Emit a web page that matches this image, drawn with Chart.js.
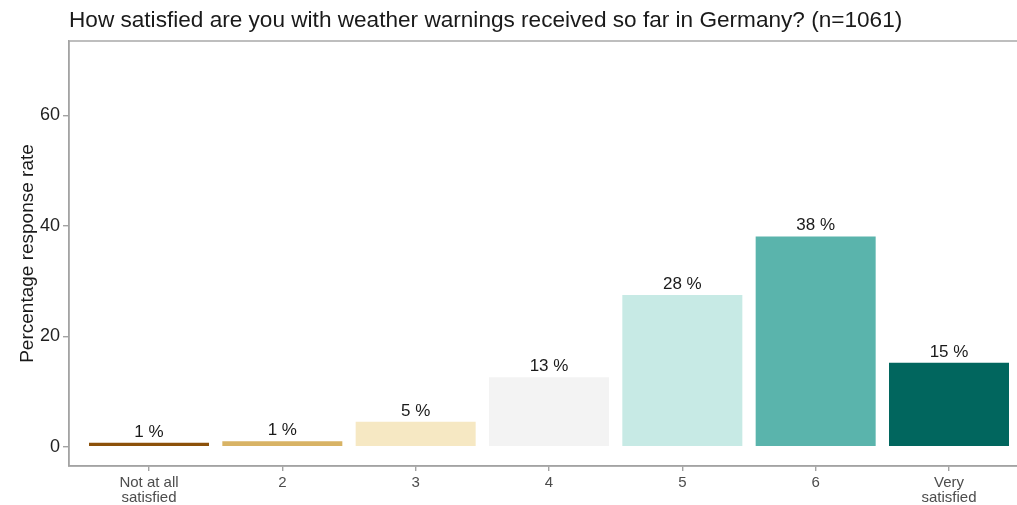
<!DOCTYPE html>
<html>
<head>
<meta charset="utf-8">
<script src="https://cdn.jsdelivr.net/npm/chart.js@4.4.1/dist/chart.umd.min.js"></script>
<style>
  html, body { margin: 0; padding: 0; overflow: hidden; background: #ffffff; }
  #wrap { width: 1040px; height: 505px; }
</style>
</head>
<body>
<div id="wrap"><canvas id="chart" width="1040" height="505"></canvas></div>
<script>
// Survey answers on a 7-point satisfaction scale
const categories = [['Not at all', 'satisfied'], '2', '3', '4', '5', '6', ['Very', 'satisfied']];
const shares = [0.7, 1.0, 4.5, 12.6, 27.5, 38.1, 15.2];
const barColors = ['#8C510A', '#D8B365', '#F6E8C3', '#F3F3F3', '#C7EAE5', '#5AB4AC', '#01665E'];
const yTicks = [0, 20, 40, 60];
const titleText = 'How satisfied are you with weather warnings received so far in Germany? (n=1061)';
const yTitle = 'Percentage response rate';

const FONT = '"Liberation Sans", Arial, Helvetica, sans-serif';
const AXIS_GREY = '#a3a3a3';

const points = shares.map((v, i) => ({ x: i, y: v }));

// Title, y-axis caption, panel frame and value labels
const decorations = {
  id: 'decorations',
  afterDatasetsDraw(chart) {
    const { ctx, chartArea: a, scales } = chart;
    ctx.save();
    // panel frame
    ctx.strokeStyle = AXIS_GREY;
    ctx.lineWidth = 1.4;
    ctx.strokeRect(a.left, a.top, a.right - a.left, a.bottom - a.top);

    // value labels above bars
    ctx.fillStyle = '#1a1a1a';
    ctx.font = '17px ' + FONT;
    ctx.textAlign = 'center';
    ctx.textBaseline = 'alphabetic';
    shares.forEach((v, i) => {
      const x = scales.x.getPixelForValue(i);
      const y = scales.y.getPixelForValue(v);
      ctx.fillText(Math.round(v) + ' %', x, y - 6);
    });

    // chart title
    ctx.textAlign = 'left';
    ctx.font = '22.6px ' + FONT;
    ctx.fillText(titleText, a.left, 27);

    // y-axis caption
    ctx.translate(33, (a.top + a.bottom) / 2);
    ctx.rotate(-Math.PI / 2);
    ctx.textAlign = 'center';
    ctx.font = '19px ' + FONT;
    ctx.fillText(yTitle, 0, 0);
    ctx.restore();
  }
};

new Chart(document.getElementById('chart'), {
  type: 'bar',
  data: {
    datasets: [{
      data: points,
      backgroundColor: barColors,
      borderWidth: 0,
      barPercentage: 0.9,
      categoryPercentage: 1.0
    }]
  },
  options: {
    responsive: false,
    animation: false,
    layout: { padding: { top: 41, right: 11, bottom: 0, left: 0 } },
    plugins: { legend: { display: false }, tooltip: { enabled: false }, title: { display: false } },
    scales: {
      x: {
        type: 'linear',
        min: -0.6,
        max: 6.6,
        offset: false,
        afterBuildTicks(scale) { scale.ticks = categories.map((_, i) => ({ value: i })); },
        afterFit(scale) { scale.height = 39; },
        ticks: {
          autoSkip: false,
          maxRotation: 0,
          padding: 5,
          color: '#4d4d4d',
          font: { family: FONT, size: 15, lineHeight: 0.95 },
          callback: (v) => categories[v]
        },
        grid: { display: true, offset: false, drawOnChartArea: false, drawTicks: true, tickLength: 5, color: AXIS_GREY, lineWidth: 1.4 },
        border: { display: true, color: AXIS_GREY, width: 1.4 }
      },
      y: {
        min: -3.5,
        max: 73.5,
        afterBuildTicks(scale) { scale.ticks = yTicks.map(v => ({ value: v })); },
        afterFit(scale) { scale.width = 69; },
        ticks: {
          padding: 3,
          color: '#1f1f1f',
          font: { family: FONT, size: 18 }
        },
        grid: { display: true, offset: false, drawOnChartArea: false, drawTicks: true, tickLength: 6, color: AXIS_GREY, lineWidth: 1.4 },
        border: { display: true, color: AXIS_GREY, width: 1.4 }
      }
    }
  },
  plugins: [decorations]
});
</script>
</body>
</html>
